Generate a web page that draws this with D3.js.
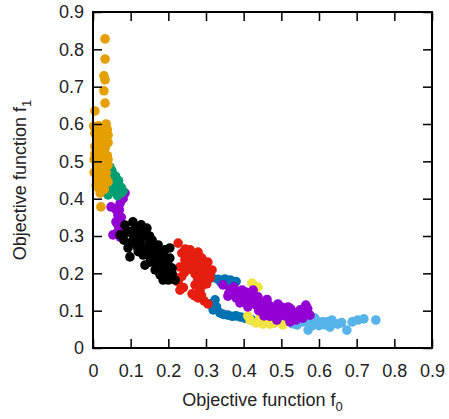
<!DOCTYPE html>
<html><head><meta charset="utf-8">
<script src="https://cdn.jsdelivr.net/npm/d3@7"></script>
<style>body{margin:0;background:#fff}svg{display:block}text{font-family:"Liberation Sans",Arial,sans-serif;fill:#222}</style>
</head><body><svg id="c" width="449" height="419"></svg>
<script>
const xTicks = [0,0.1,0.2,0.3,0.4,0.5,0.6,0.7,0.8,0.9];
const yTicks = [0,0.1,0.2,0.3,0.4,0.5,0.6,0.7,0.8,0.9];
const xLabel = "Objective function f", xSub = "0";
const yLabel = "Objective function f", ySub = "1";

const lightBlue = [[0.523,0.075],[0.542,0.062],[0.563,0.070],[0.581,0.059],[0.597,0.070],[0.616,0.062],[0.634,0.075],[0.650,0.064],[0.550,0.080],[0.589,0.080],[0.674,0.048],[0.688,0.070],[0.703,0.075],[0.719,0.078],[0.751,0.075],[0.518,0.080],[0.629,0.056],[0.571,0.048],
  [0.530,0.065],[0.555,0.070],[0.575,0.070],[0.600,0.060],[0.610,0.070],[0.622,0.070],[0.640,0.066],[0.660,0.068],[0.585,0.062]];
const blue = [[0.316,0.188],[0.332,0.184],[0.350,0.185],[0.365,0.182],[0.380,0.178],[0.311,0.118],[0.319,0.102],[0.337,0.094],[0.358,0.088],[0.380,0.086],[0.403,0.080],[0.422,0.075],[0.324,0.129],[0.449,0.080],[0.475,0.080],[0.502,0.086],
  [0.340,0.175],[0.360,0.170],[0.328,0.110],[0.346,0.090],[0.370,0.085],[0.392,0.083]];
const yellow = [[0.422,0.174],[0.438,0.163],[0.417,0.075],[0.433,0.067],[0.451,0.064],[0.470,0.064],[0.488,0.070],[0.504,0.062],[0.443,0.080],[0.411,0.086],[0.428,0.168],[0.460,0.070],[0.480,0.066]];
const red = [[0.226,0.281],[0.236,0.254],[0.258,0.263],[0.279,0.257],[0.244,0.236],[0.265,0.241],[0.289,0.241],[0.305,0.230],[0.231,0.217],[0.252,0.220],[0.276,0.222],[0.297,0.214],[0.316,0.209],[0.244,0.204],[0.271,0.198],[0.292,0.193],[0.311,0.188],[0.226,0.177],[0.271,0.169],[0.292,0.169],[0.231,0.155],[0.263,0.145],[0.279,0.134],[0.295,0.126],[0.305,0.118],[0.220,0.188],[0.284,0.155],
  [0.245,0.265],[0.250,0.245],[0.262,0.230],[0.272,0.250],[0.282,0.232],[0.292,0.222],[0.300,0.200],[0.262,0.210],[0.282,0.208],[0.290,0.180],[0.302,0.172],[0.310,0.198],[0.240,0.162],[0.270,0.140],[0.288,0.140],[0.278,0.182],[0.236,0.192]];
const purple = [[0.085,0.415],[0.080,0.400],[0.072,0.388],[0.048,0.378],[0.060,0.372],[0.066,0.356],[0.075,0.350],[0.061,0.338],[0.074,0.324],[0.053,0.303],[0.072,0.297],[0.065,0.310],[0.070,0.370],[0.066,0.330],
  [0.345,0.169],[0.364,0.155],[0.385,0.150],[0.358,0.139],[0.380,0.134],[0.403,0.142],[0.390,0.121],[0.417,0.129],[0.438,0.137],[0.411,0.110],[0.433,0.115],[0.457,0.123],[0.449,0.102],[0.470,0.113],[0.491,0.118],[0.475,0.096],[0.496,0.102],[0.518,0.110],[0.510,0.086],[0.531,0.096],[0.550,0.102],[0.539,0.075],[0.557,0.080],[0.576,0.088],[0.523,0.070],[0.488,0.075],[0.454,0.086],[0.396,0.155],[0.425,0.155],[0.374,0.163],
  [0.360,0.145],[0.372,0.150],[0.392,0.140],[0.400,0.130],[0.410,0.125],[0.420,0.140],[0.430,0.125],[0.440,0.120],[0.450,0.115],[0.460,0.110],[0.470,0.100],[0.480,0.105],[0.490,0.095],[0.500,0.090],[0.510,0.100],[0.520,0.090],[0.530,0.085],[0.540,0.090],[0.560,0.095],[0.550,0.085],[0.405,0.150],[0.462,0.130],[0.500,0.110],[0.440,0.100],[0.470,0.085],[0.565,0.115],[0.570,0.105],[0.525,0.105]];
const black = [[0.085,0.329],[0.106,0.338],[0.098,0.311],[0.119,0.316],[0.143,0.321],[0.082,0.289],[0.106,0.289],[0.130,0.295],[0.157,0.289],[0.093,0.268],[0.119,0.268],[0.146,0.271],[0.173,0.276],[0.098,0.244],[0.133,0.249],[0.165,0.254],[0.191,0.263],[0.151,0.230],[0.178,0.236],[0.204,0.241],[0.165,0.209],[0.191,0.214],[0.210,0.214],[0.178,0.196],[0.204,0.193],[0.218,0.182],[0.186,0.182],[0.138,0.222],[0.072,0.303],[0.125,0.281],[0.204,0.268],
  [0.090,0.310],[0.110,0.300],[0.120,0.300],[0.140,0.308],[0.150,0.300],[0.100,0.280],[0.130,0.270],[0.140,0.260],[0.160,0.262],[0.170,0.250],[0.180,0.258],[0.160,0.240],[0.190,0.240],[0.170,0.222],[0.180,0.220],[0.200,0.222],[0.190,0.200],[0.210,0.200],[0.200,0.182],[0.120,0.258],[0.150,0.280],[0.112,0.322],[0.128,0.330],[0.145,0.250],[0.168,0.270]];
const green = [[0.035,0.490],[0.045,0.485],[0.040,0.470],[0.052,0.468],[0.060,0.460],[0.045,0.455],[0.058,0.445],[0.068,0.448],[0.050,0.435],[0.062,0.432],[0.075,0.430],[0.045,0.420],[0.058,0.418],[0.070,0.415],[0.080,0.420],[0.040,0.410],[0.065,0.408],
  [0.050,0.450],[0.055,0.430],[0.065,0.420],[0.070,0.432],[0.075,0.415],[0.050,0.475]];
const orange = [[0.032,0.828],[0.032,0.774],[0.029,0.729],[0.032,0.718],[0.029,0.689],[0.032,0.656],[0.005,0.635],[0.002,0.594],[0.015,0.595],[0.030,0.592],[0.038,0.585],[0.005,0.575],[0.020,0.580],[0.035,0.570],[0.010,0.560],[0.025,0.555],[0.040,0.550],[0.005,0.540],[0.018,0.540],[0.032,0.535],[0.010,0.525],[0.025,0.520],[0.038,0.515],[0.003,0.505],[0.018,0.500],[0.030,0.495],[0.040,0.490],[0.010,0.485],[0.025,0.478],[0.008,0.465],[0.020,0.460],[0.035,0.455],[0.012,0.445],[0.028,0.440],[0.015,0.428],[0.030,0.425],[0.019,0.415],[0.021,0.378],[0.005,0.520],[0.003,0.470],
  [0.008,0.590],[0.025,0.590],[0.035,0.600],[0.015,0.570],[0.028,0.565],[0.040,0.570],[0.020,0.550],[0.035,0.545],[0.010,0.550],[0.028,0.530],[0.012,0.510],[0.030,0.510],[0.040,0.505],[0.022,0.490],[0.035,0.470],[0.015,0.475],[0.028,0.460],[0.040,0.445],[0.020,0.430],[0.008,0.435]];

const series = [
  {data: lightBlue, color: "#56b4e9"},
  {data: blue, color: "#0072b2"},
  {data: yellow, color: "#f0e442"},
  {data: red, color: "#e51e10"},
  {data: purple, color: "#9400d3"},
  {data: black, color: "#000000"},
  {data: green, color: "#009e73"},
  {data: orange, color: "#e69f00"}
];

const L = 93, R = 432, T = 12, B = 348;
const x = d3.scaleLinear().domain([0,0.9]).range([L,R]);
const y = d3.scaleLinear().domain([0,0.9]).range([B,T]);
const svg = d3.select("#c");
const fmt = d => d === 0 ? "0" : d3.format(".1f")(d);

const plot = svg.append("g");
series.forEach(s => {
  plot.append("g").selectAll("circle").data(s.data).join("circle")
    .attr("cx", d => x(d[0])).attr("cy", d => y(d[1])).attr("r", 4.8)
    .attr("fill", s.color);
});

const tl = 9;
const gx = svg.append("g").attr("transform", `translate(0,${B})`)
  .call(d3.axisBottom(x).tickValues(xTicks).tickSizeInner(-tl).tickSizeOuter(0).tickPadding(tl+7).tickFormat(fmt));
const gx2 = svg.append("g").attr("transform", `translate(0,${T})`)
  .call(d3.axisTop(x).tickValues(xTicks).tickSizeInner(-tl).tickSizeOuter(0).tickFormat(""));
const gy = svg.append("g").attr("transform", `translate(${L},0)`)
  .call(d3.axisLeft(y).tickValues(yTicks).tickSizeInner(-tl).tickSizeOuter(0).tickPadding(9).tickFormat(fmt));
const gy2 = svg.append("g").attr("transform", `translate(${R},0)`)
  .call(d3.axisRight(y).tickValues(yTicks).tickSizeInner(-tl).tickSizeOuter(0).tickFormat(""));
[gx,gx2,gy,gy2].forEach(g => {
  g.select(".domain").remove();
  g.selectAll(".tick line").attr("stroke","#000").attr("stroke-width",1.5);
  g.selectAll("text").attr("font-size",18).attr("font-family",'"Liberation Sans",Arial,sans-serif').attr("fill","#222");
});
gx.selectAll("text").attr("dy","0.71em");
svg.append("rect").attr("x",L).attr("y",T).attr("width",R-L).attr("height",B-T)
  .attr("fill","none").attr("stroke","#000").attr("stroke-width",2);

const xl = svg.append("text").attr("x",(L+R)/2).attr("y",406).attr("text-anchor","middle").attr("font-size",18);
xl.append("tspan").text(xLabel);
xl.append("tspan").attr("dy",5).attr("font-size",13).text(xSub);
const yl = svg.append("text").attr("transform",`translate(26,${(T+B)/2}) rotate(-90)`).attr("text-anchor","middle").attr("font-size",18);
yl.append("tspan").text(yLabel);
yl.append("tspan").attr("dy",5).attr("font-size",13).text(ySub);
</script></body></html>
